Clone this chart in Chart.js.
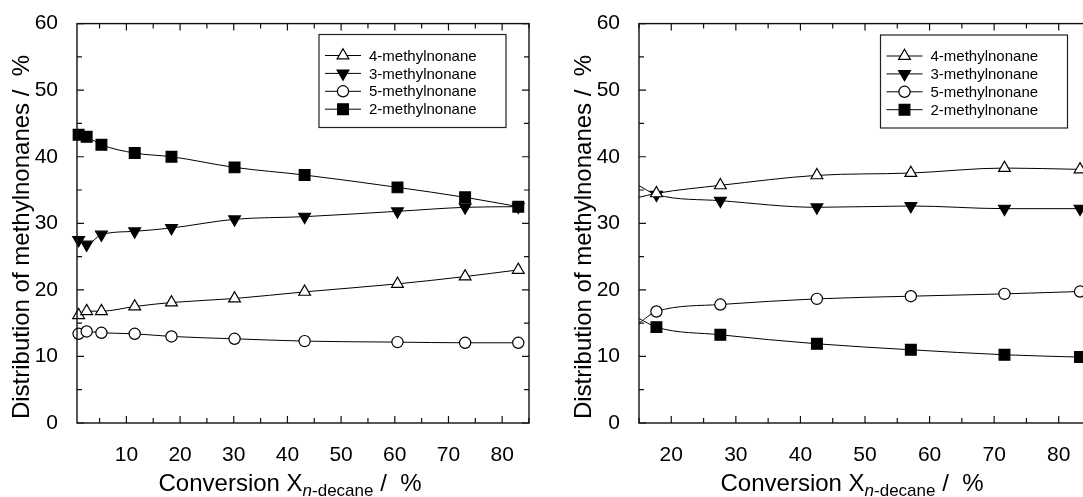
<!DOCTYPE html>
<html>
<head>
<meta charset="utf-8">
<script src="https://cdn.jsdelivr.net/npm/chart.js@4/dist/chart.umd.min.js"></script>
<style>
  html, body { margin: 0; padding: 0; background: #fff; overflow: hidden; width: 1083px; height: 497px; }
  canvas { position: absolute; top: 0; }
  #left { left: 0; }
  #right { left: 562px; }
</style>
</head>
<body>
<canvas id="left" width="540" height="497"></canvas>
<canvas id="right" width="540" height="497"></canvas>
<script>
// ---- series names ----
const seriesNames = ['4-methylnonane', '3-methylnonane', '5-methylnonane', '2-methylnonane'];

// ---- left panel: conversion of n-decane (%) and isomer distribution (%) ----
const convLeft = [1.1, 2.6, 5.35, 11.55, 18.4, 30.15, 43.2, 60.5, 73.1, 83.0];
const m4Left = [16.2, 16.8, 16.8, 17.5, 18.1, 18.7, 19.7, 20.9, 22.0, 23.0];
const m3Left = [27.5, 26.8, 28.3, 28.8, 29.3, 30.6, 31.0, 31.8, 32.4, 32.5];
const m5Left = [13.4, 13.75, 13.55, 13.4, 13.0, 12.65, 12.3, 12.15, 12.05, 12.05];
const m2Left = [43.3, 43.0, 41.8, 40.55, 40.0, 38.4, 37.25, 35.4, 33.9, 32.5];

// ---- right panel ----
const convRight = [17.7, 27.6, 42.55, 57.1, 71.6, 83.3];
const m4Right = [34.5, 35.7, 37.2, 37.55, 38.3, 38.1];
const m3Right = [34.3, 33.4, 32.4, 32.6, 32.2, 32.2];
const m5Right = [16.75, 17.8, 18.65, 19.05, 19.4, 19.75];
const m2Right = [14.4, 13.25, 11.9, 11.0, 10.25, 9.9];
// fitted curves start at the left edge of the axis
const fitStartX = 15;
const fitStartRight = [33.9, 35.65, 15.0, 15.7]; // 4-, 3-, 5-, 2-methylnonane

// ---- axis ranges and tick labels ----
const xRangeLeft = [0.8, 85];
const xRangeRight = [15, 85];
const yRange = [0, 60];
const xTicksLeft = [10, 20, 30, 40, 50, 60, 70, 80];
const xTicksRight = [20, 30, 40, 50, 60, 70, 80];
const yTicks = [0, 10, 20, 30, 40, 50, 60];

const FONT = "'Liberation Sans', Arial, Helvetica, sans-serif";

// marker look for each series
const markerStyles = [
  { pointStyle: 'triangle', rotation: 0, fill: '#fff', radius: 6.8 },
  { pointStyle: 'triangle', rotation: 180, fill: '#000', radius: 6.8 },
  { pointStyle: 'circle', rotation: 0, fill: '#fff', radius: 5.6 },
  { pointStyle: 'rect', rotation: 0, fill: '#000', radius: 7.6 }
];

function makeDataset(i, xs, ys, start) {
  const pts = xs.map((x, k) => ({ x: x, y: ys[k] }));
  const hasStart = start !== undefined;
  if (hasStart) pts.unshift({ x: fitStartX, y: start });
  const m = markerStyles[i];
  return {
    label: seriesNames[i],
    data: pts,
    borderColor: '#000',
    borderWidth: 1,
    backgroundColor: m.fill,
    pointStyle: m.pointStyle,
    pointRotation: m.rotation,
    pointRadius: ctx => (hasStart && ctx.dataIndex === 0) ? 0 : m.radius,
    pointBorderColor: '#000',
    pointBorderWidth: 1.2,
    pointBackgroundColor: m.fill,
    cubicInterpolationMode: 'monotone',
    clip: false
  };
}

// draw a legend marker with the same shapes as the chart points
function drawMarker(ctx, m, x, y) {
  const r = m.radius;
  ctx.save();
  ctx.beginPath();
  if (m.pointStyle === 'circle') {
    ctx.arc(x, y, r, 0, Math.PI * 2);
  } else if (m.pointStyle === 'rect') {
    const s = r * Math.SQRT1_2;
    ctx.rect(x - s, y - s, 2 * s, 2 * s);
  } else {
    let a = m.rotation * Math.PI / 180;
    for (let k = 0; k < 3; k++) {
      const px = x + Math.sin(a) * r, py = y - Math.cos(a) * r;
      if (k === 0) ctx.moveTo(px, py); else ctx.lineTo(px, py);
      a += Math.PI * 2 / 3;
    }
    ctx.closePath();
  }
  ctx.fillStyle = m.fill;
  ctx.fill();
  ctx.lineWidth = 1.2;
  ctx.strokeStyle = '#000';
  ctx.stroke();
  ctx.restore();
}

// frame, inward tick marks, axis titles and legend
const decorations = {
  id: 'decorations',
  afterDraw(chart, args, opts) {
    const ctx = chart.ctx;
    const a = chart.chartArea;
    const xs = chart.scales.x, ys = chart.scales.y;
    ctx.save();
    ctx.strokeStyle = '#111';
    ctx.lineWidth = 1.4;
    ctx.strokeRect(a.left, a.top, a.right - a.left, a.bottom - a.top);

    // tick marks every 5 units, longer at labelled values
    ctx.lineWidth = 1.2;
    ctx.beginPath();
    for (let v = Math.ceil(xs.min / 5) * 5; v <= xs.max; v += 5) {
      const px = xs.getPixelForValue(v);
      const len = v % 10 === 0 ? 7 : 5;
      ctx.moveTo(px, a.bottom); ctx.lineTo(px, a.bottom - len);
      ctx.moveTo(px, a.top); ctx.lineTo(px, a.top + len);
    }
    for (let v = ys.min; v <= ys.max; v += 5) {
      const py = ys.getPixelForValue(v);
      const len = v % 10 === 0 ? 7 : 5;
      ctx.moveTo(a.left, py); ctx.lineTo(a.left + len, py);
      ctx.moveTo(a.right, py); ctx.lineTo(a.right - len, py);
    }
    ctx.stroke();

    // y axis title
    ctx.fillStyle = '#000';
    ctx.save();
    ctx.translate(opts.yTitleX, opts.yTitleY);
    ctx.rotate(-Math.PI / 2);
    ctx.font = '24px ' + FONT;
    ctx.textAlign = 'center';
    ctx.textBaseline = 'alphabetic';
    ctx.fillText('Distribution of methylnonanes /  %', 0, 0);
    ctx.restore();

    // x axis title with subscript
    const mainFont = '24px ' + FONT;
    const subItalic = 'italic 17px ' + FONT;
    const subFont = '17px ' + FONT;
    const parts = [
      { t: 'Conversion X', f: mainFont, dy: 0 },
      { t: 'n', f: subItalic, dy: 5 },
      { t: '-decane', f: subFont, dy: 5 },
      { t: ' /  %', f: mainFont, dy: 0 }
    ];
    let total = 0;
    parts.forEach(p => { ctx.font = p.f; p.w = ctx.measureText(p.t).width; total += p.w; });
    let x = (a.left + a.right) / 2 + opts.xTitleShift - total / 2;
    ctx.textAlign = 'left';
    ctx.textBaseline = 'alphabetic';
    parts.forEach(p => {
      ctx.font = p.f;
      ctx.fillText(p.t, x, opts.xTitleBaseline + p.dy);
      x += p.w;
    });

    // legend
    const L = opts.legend;
    const w = 187, h = 93;
    ctx.lineWidth = 1.2;
    ctx.strokeStyle = '#222';
    ctx.strokeRect(L.x, L.y, w, h);
    ctx.font = '15px ' + FONT;
    ctx.textBaseline = 'middle';
    chart.data.datasets.forEach((ds, i) => {
      const rowY = L.y + 21 + i * 17.9;
      ctx.strokeStyle = '#000';
      ctx.lineWidth = 1;
      ctx.beginPath();
      ctx.moveTo(L.x + 6, rowY); ctx.lineTo(L.x + 42, rowY);
      ctx.stroke();
      drawMarker(ctx, markerStyles[i], L.x + 24, rowY);
      ctx.fillStyle = '#000';
      ctx.fillText(ds.label, L.x + 50, rowY + 1);
    });
    ctx.restore();
  }
};

function makeChart(id, datasets, xRange, xTicks, decoOpts) {
  return new Chart(document.getElementById(id), {
    type: 'line',
    data: { datasets: datasets },
    options: {
      responsive: false,
      animation: false,
      devicePixelRatio: 1,
      layout: { padding: { top: 23, right: 11, left: 0, bottom: 0 } },
      plugins: { legend: { display: false }, tooltip: { enabled: false }, decorations: decoOpts },
      scales: {
        x: {
          type: 'linear',
          min: xRange[0], max: xRange[1],
          grid: { display: false },
          border: { display: false },
          afterBuildTicks: s => { s.ticks = xTicks.map(v => ({ value: v })); },
          afterFit: s => { s.height = 74; },
          ticks: { color: '#000', font: { family: FONT, size: 21 }, padding: 12, maxRotation: 0, autoSkip: false }
        },
        y: {
          type: 'linear',
          min: yRange[0], max: yRange[1],
          grid: { display: false },
          border: { display: false },
          afterBuildTicks: s => { s.ticks = yTicks.map(v => ({ value: v })); },
          afterFit: s => { s.width = 77; },
          ticks: { color: '#000', font: { family: FONT, size: 21 }, padding: 11 }
        }
      }
    },
    plugins: [decorations]
  });
}

makeChart('left', [
  makeDataset(0, convLeft, m4Left),
  makeDataset(1, convLeft, m3Left),
  makeDataset(2, convLeft, m5Left),
  makeDataset(3, convLeft, m2Left)
], xRangeLeft, xTicksLeft, {
  yTitleX: 29, yTitleY: 237, xTitleShift: -13, xTitleBaseline: 491,
  legend: { x: 319, y: 34.5 }
});

makeChart('right', [
  makeDataset(0, convRight, m4Right, fitStartRight[0]),
  makeDataset(1, convRight, m3Right, fitStartRight[1]),
  makeDataset(2, convRight, m5Right, fitStartRight[2]),
  makeDataset(3, convRight, m2Right, fitStartRight[3])
], xRangeRight, xTicksRight, {
  yTitleX: 29, yTitleY: 237, xTitleShift: -13, xTitleBaseline: 491,
  legend: { x: 318.5, y: 35 }
});
</script>
</body>
</html>
